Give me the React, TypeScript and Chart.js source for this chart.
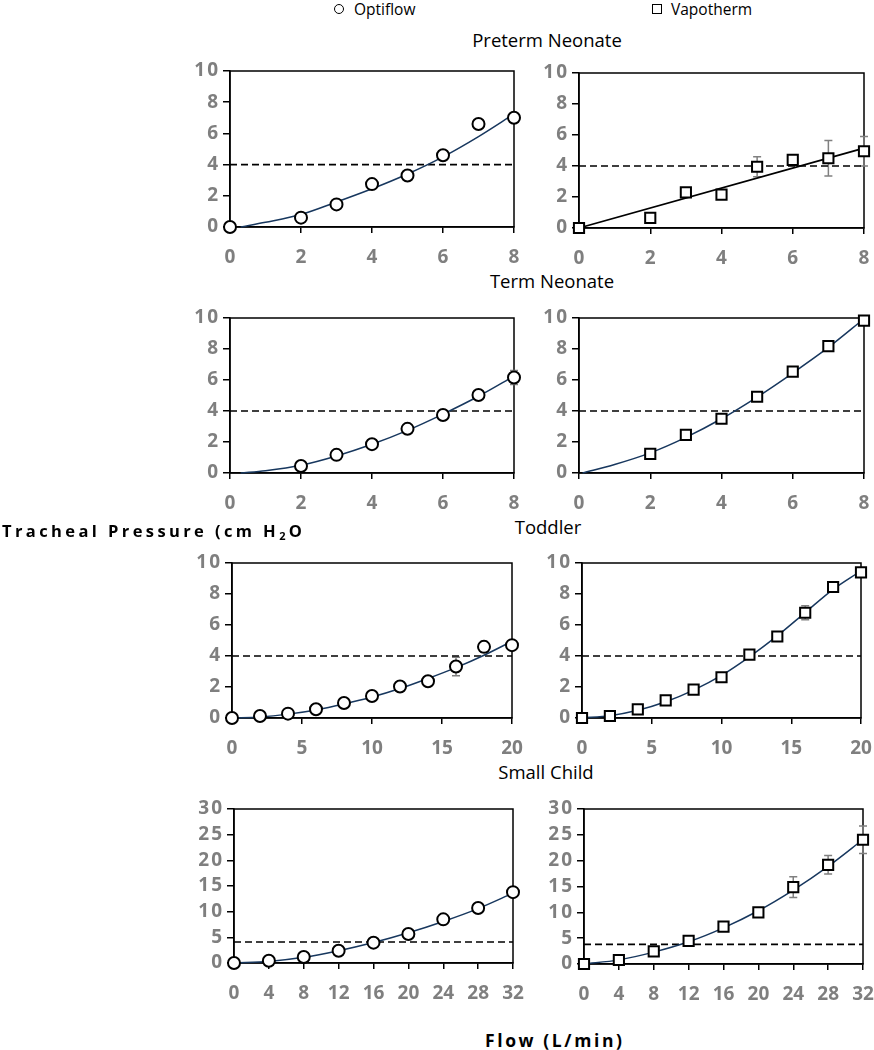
import React, { useEffect, useRef } from 'react';
import { Chart, registerables } from 'chart.js';

Chart.register(...registerables);
Chart.defaults.font.family = "'Open Sans', sans-serif";

// ---------- Data ----------
// Preterm Neonate
const pretermOptX = [0, 2, 3, 4, 5, 6, 7, 8];
const pretermOptY = [0, 0.6, 1.45, 2.75, 3.3, 4.6, 6.6, 7.0];
const pretermOptErr = [0, 0, 0, 0, 0, 0.2, 0, 0];
const pretermOptFitX = [0.3, 1, 2, 3, 4, 5, 6, 7, 8];
const pretermOptFitY = [0, 0.3, 0.8, 1.6, 2.45, 3.4, 4.5, 5.8, 7.25];

const pretermVapX = [0, 2, 3, 4, 5, 6, 7, 8];
const pretermVapY = [0, 0.65, 2.3, 2.15, 3.95, 4.4, 4.5, 4.95];
const pretermVapErr = [0, 0, 0, 0, 0.65, 0.15, 1.15, 0.95];
const pretermVapFitX = [0, 8];
const pretermVapFitY = [0, 5.15];

// Term Neonate
const termOptX = [2, 3, 4, 5, 6, 7, 8];
const termOptY = [0.45, 1.17, 1.86, 2.85, 3.74, 5.03, 6.16];
const termOptErr = [0, 0, 0, 0, 0.3, 0, 0.45];
const termOptFitX = [0.3, 1, 2, 3, 4, 5, 6, 7, 8];
const termOptFitY = [0, 0.15, 0.5, 1.1, 1.85, 2.75, 3.8, 4.95, 6.25];

const termVapX = [2, 3, 4, 5, 6, 7, 8];
const termVapY = [1.23, 2.46, 3.5, 4.92, 6.54, 8.19, 9.83];
const termVapErr = [0, 0, 0, 0, 0, 0, 0.2];
const termVapFitX = [0.1, 1, 2, 3, 4, 5, 6, 7, 8];
const termVapFitY = [0, 0.55, 1.3, 2.3, 3.5, 4.9, 6.45, 8.1, 9.95];

// Toddler
const toddlerX = [0, 2, 4, 6, 8, 10, 12, 14, 16, 18, 20];
const toddlerOptY = [0, 0.13, 0.28, 0.56, 0.97, 1.42, 2.03, 2.37, 3.32, 4.59, 4.7];
const toddlerOptErr = [0, 0, 0, 0, 0, 0, 0, 0, 0.6, 0.35, 0];
const toddlerOptFitY = [0, 0.07, 0.25, 0.52, 0.9, 1.35, 1.9, 2.55, 3.25, 4.05, 4.95];

const toddlerVapY = [0, 0.13, 0.56, 1.14, 1.83, 2.63, 4.09, 5.26, 6.79, 8.45, 9.4];
const toddlerVapErr = [0, 0, 0, 0, 0, 0, 0, 0, 0.45, 0.2, 0];
const toddlerVapFitY = [0, 0.15, 0.5, 1.05, 1.8, 2.75, 3.95, 5.3, 6.8, 8.3, 9.5];

// Small Child
const childX = [0, 4, 8, 12, 16, 20, 24, 28, 32];
const childOptY = [0, 0.45, 1.17, 2.4, 3.96, 5.65, 8.5, 10.7, 13.8];
const childOptErr = [0, 0, 0, 0, 0, 0, 0, 0, 0];
const childOptFitY = [0, 0.3, 1.1, 2.4, 4.0, 5.9, 8.1, 10.6, 13.6];

const childVapY = [0, 0.78, 2.46, 4.46, 7.24, 10.0, 14.87, 19.2, 24.05];
const childVapErr = [0, 0, 0, 0, 0, 0, 2.0, 1.8, 2.65];
const childVapFitY = [0, 0.8, 2.3, 4.3, 7.0, 10.3, 14.3, 18.9, 24.1];

// Threshold (dashed) levels
const thresholds = [4, 4, 4, 4, 4, 4, 4.1, 3.8];

// Axis ranges
const xMaxNeonate = 8, xStepNeonate = 2;
const xMaxToddler = 20, xStepToddler = 5;
const xMaxChild = 32, xStepChild = 4;
const yMaxSmall = 10, yStepSmall = 2;
const yMaxLarge = 30, yStepLarge = 5;

// ---------- Layout ----------
const AXW = 62;
const AXH = 48;
const PADT = 16;
const PADR = 32;
const Y_LABEL_SPACING = 2;

const NAVY = '#17375E';
const GRAY = '#7f7f7f';

type Spec = {
  area: [number, number, number, number];
  xs: number[]; ys: number[]; err: number[];
  fx: number[]; fy: number[];
  marker: 'circle' | 'rect';
  fitColor: string;
  thr: number;
  xMax: number; xStep: number; yMax: number; yStep: number;
};

const specs: Spec[] = [
  { area: [230, 514, 71, 227], xs: pretermOptX, ys: pretermOptY, err: pretermOptErr, fx: pretermOptFitX, fy: pretermOptFitY, marker: 'circle', fitColor: NAVY, thr: thresholds[0], xMax: xMaxNeonate, xStep: xStepNeonate, yMax: yMaxSmall, yStep: yStepSmall },
  { area: [579, 864, 73, 228], xs: pretermVapX, ys: pretermVapY, err: pretermVapErr, fx: pretermVapFitX, fy: pretermVapFitY, marker: 'rect', fitColor: '#000', thr: thresholds[1], xMax: xMaxNeonate, xStep: xStepNeonate, yMax: yMaxSmall, yStep: yStepSmall },
  { area: [230, 514, 318, 473], xs: termOptX, ys: termOptY, err: termOptErr, fx: termOptFitX, fy: termOptFitY, marker: 'circle', fitColor: NAVY, thr: thresholds[2], xMax: xMaxNeonate, xStep: xStepNeonate, yMax: yMaxSmall, yStep: yStepSmall },
  { area: [579, 864, 318, 473], xs: termVapX, ys: termVapY, err: termVapErr, fx: termVapFitX, fy: termVapFitY, marker: 'rect', fitColor: NAVY, thr: thresholds[3], xMax: xMaxNeonate, xStep: xStepNeonate, yMax: yMaxSmall, yStep: yStepSmall },
  { area: [232, 512, 563, 718], xs: toddlerX, ys: toddlerOptY, err: toddlerOptErr, fx: toddlerX, fy: toddlerOptFitY, marker: 'circle', fitColor: NAVY, thr: thresholds[4], xMax: xMaxToddler, xStep: xStepToddler, yMax: yMaxSmall, yStep: yStepSmall },
  { area: [582, 861, 563, 718], xs: toddlerX, ys: toddlerVapY, err: toddlerVapErr, fx: toddlerX, fy: toddlerVapFitY, marker: 'rect', fitColor: NAVY, thr: thresholds[5], xMax: xMaxToddler, xStep: xStepToddler, yMax: yMaxSmall, yStep: yStepSmall },
  { area: [234, 513, 809, 963], xs: childX, ys: childOptY, err: childOptErr, fx: childX, fy: childOptFitY, marker: 'circle', fitColor: NAVY, thr: thresholds[6], xMax: xMaxChild, xStep: xStepChild, yMax: yMaxLarge, yStep: yStepLarge },
  { area: [584, 863, 809, 964], xs: childX, ys: childVapY, err: childVapErr, fx: childX, fy: childVapFitY, marker: 'rect', fitColor: NAVY, thr: thresholds[7], xMax: xMaxChild, xStep: xStepChild, yMax: yMaxLarge, yStep: yStepLarge },
];

const panelPlugin = {
  id: 'panelFrame',
  beforeDraw(chart: any) {
    const ys = chart.scales.y;
    if (ys && !ys._spaced) {
      const orig = ys.drawLabels.bind(ys);
      ys.drawLabels = (ca: any) => {
        const c = chart.ctx;
        c.save();
        (c as any).letterSpacing = Y_LABEL_SPACING + 'px';
        orig(ca);
        c.restore();
      };
      ys._spaced = true;
    }
  },
  beforeDatasetsDraw(chart: any) {
    const { ctx, chartArea } = chart;
    const xs = chart.scales.x;
    const ysc = chart.scales.y;
    ctx.save();
    ctx.strokeStyle = '#000';
    ctx.lineWidth = 1.5;
    ctx.strokeRect(chartArea.left, chartArea.top, chartArea.right - chartArea.left, chartArea.bottom - chartArea.top);
    const ds = chart.data.datasets[0] as any;
    const errs: number[] = ds.errorBars || [];
    ctx.strokeStyle = '#808080';
    ctx.lineWidth = 1.5;
    ds.data.forEach((p: any, i: number) => {
      const e = errs[i];
      if (!e) return;
      const px = xs.getPixelForValue(p.x);
      const y1 = ysc.getPixelForValue(p.y + e);
      const y2 = ysc.getPixelForValue(p.y - e);
      ctx.beginPath();
      ctx.moveTo(px, y1); ctx.lineTo(px, y2);
      ctx.moveTo(px - 4, y1); ctx.lineTo(px + 4, y1);
      ctx.moveTo(px - 4, y2); ctx.lineTo(px + 4, y2);
      ctx.stroke();
    });
    ctx.restore();
  },
};

function Panel({ spec }: { spec: Spec }) {
  const ref = useRef<HTMLCanvasElement>(null);
  const [L, R, T, B] = spec.area;
  const w = R - L + AXW + PADR;
  const h = B - T + PADT + AXH;
  useEffect(() => {
    const tickFont = { size: 19, weight: 'bold' as const, family: "'Open Sans', sans-serif" };
    const chart = new Chart(ref.current as HTMLCanvasElement, {
      type: 'scatter',
      data: {
        datasets: [
          {
            data: spec.xs.map((x, i) => ({ x, y: spec.ys[i] })),
            errorBars: spec.err,
            showLine: false,
            pointStyle: spec.marker,
            pointRadius: spec.marker === 'circle' ? 6 : 7.2,
            pointBorderWidth: 2,
            pointBackgroundColor: '#fff',
            pointBorderColor: '#000',
            clip: false,
          } as any,
          {
            data: spec.fx.map((x, i) => ({ x, y: spec.fy[i] })),
            showLine: true,
            pointRadius: 0,
            borderColor: spec.fitColor,
            borderWidth: spec.fitColor === '#000' ? 1.8 : 1.5,
            cubicInterpolationMode: 'monotone',
            clip: false,
          } as any,
          {
            data: [{ x: 0, y: spec.thr }, { x: spec.xMax, y: spec.thr }],
            showLine: true,
            pointRadius: 0,
            borderColor: '#000',
            borderWidth: 1.6,
            borderDash: [7, 4],
            clip: false,
          } as any,
        ],
      },
      options: {
        animation: false,
        responsive: false,
        devicePixelRatio: 1,
        layout: { padding: { top: PADT, right: PADR, left: 0, bottom: 0 } },
        plugins: { legend: { display: false }, tooltip: { enabled: false } },
        scales: {
          x: {
            type: 'linear', min: 0, max: spec.xMax,
            afterFit: (s: any) => { s.height = AXH; },
            ticks: { stepSize: spec.xStep, color: GRAY, font: tickFont, padding: 13, maxRotation: 0, autoSkip: false },
            grid: { drawOnChartArea: false, drawTicks: true, tickLength: 6, color: '#000', lineWidth: 1.5 },
            border: { display: true, color: '#000', width: 1.5 },
          },
          y: {
            type: 'linear', min: 0, max: spec.yMax,
            afterFit: (s: any) => { s.width = AXW; },
            ticks: { stepSize: spec.yStep, color: GRAY, font: tickFont, padding: 3, autoSkip: false },
            grid: { drawOnChartArea: false, drawTicks: true, tickLength: 7, color: '#000', lineWidth: 1.5 },
            border: { display: true, color: '#000', width: 1.5 },
          },
        },
      } as any,
      plugins: [panelPlugin],
    });
    return () => chart.destroy();
  }, []);
  return (
    <canvas
      ref={ref}
      width={w}
      height={h}
      style={{ position: 'absolute', left: L - AXW, top: T - PADT, width: w, height: h }}
    />
  );
}

const titles: [string, number, number][] = [
  ['Preterm Neonate', 547, 40],
  ['Term Neonate', 552, 281],
  ['Toddler', 548, 527],
  ['Small Child', 546, 772],
];

export default function App() {
  const font = "'Open Sans', sans-serif";
  return (
    <div style={{ position: 'absolute', left: 0, top: 0, width: 874, height: 1050, background: '#fff', fontFamily: font, color: '#000' }}>
      {/* Legend */}
      <div style={{ position: 'absolute', left: 334, top: 4, width: 10, height: 10, border: '1.5px solid #000', borderRadius: '50%', boxSizing: 'border-box' }} />
      <div style={{ position: 'absolute', left: 354, top: 0, fontSize: 15.5, lineHeight: '18px' }}>Optiflow</div>
      <div style={{ position: 'absolute', left: 652, top: 4, width: 10, height: 10, border: '1.5px solid #000', boxSizing: 'border-box' }} />
      <div style={{ position: 'absolute', left: 671, top: 0, fontSize: 15.5, lineHeight: '18px' }}>Vapotherm</div>

      {titles.map(([t, x, y]) => (
        <div key={t} style={{ position: 'absolute', left: x, top: y, transform: 'translate(-50%, -50%)', fontSize: 18.5, lineHeight: '22px', whiteSpace: 'nowrap' }}>{t}</div>
      ))}

      {specs.map((s, i) => <Panel key={i} spec={s} />)}

      <div style={{ position: 'absolute', left: 2, top: 520, fontSize: 16.5, fontWeight: 'bold', letterSpacing: '3.4px', lineHeight: '22px', whiteSpace: 'nowrap' }}>
        Tracheal Pressure (cm H<span style={{ fontSize: 11, position: 'relative', top: 3 }}>2</span>O
      </div>
      <div style={{ position: 'absolute', left: 485, top: 1029, fontSize: 17.5, fontWeight: 'bold', letterSpacing: '2.6px', lineHeight: '22px', whiteSpace: 'nowrap' }}>
        Flow (L/min)
      </div>
    </div>
  );
}
